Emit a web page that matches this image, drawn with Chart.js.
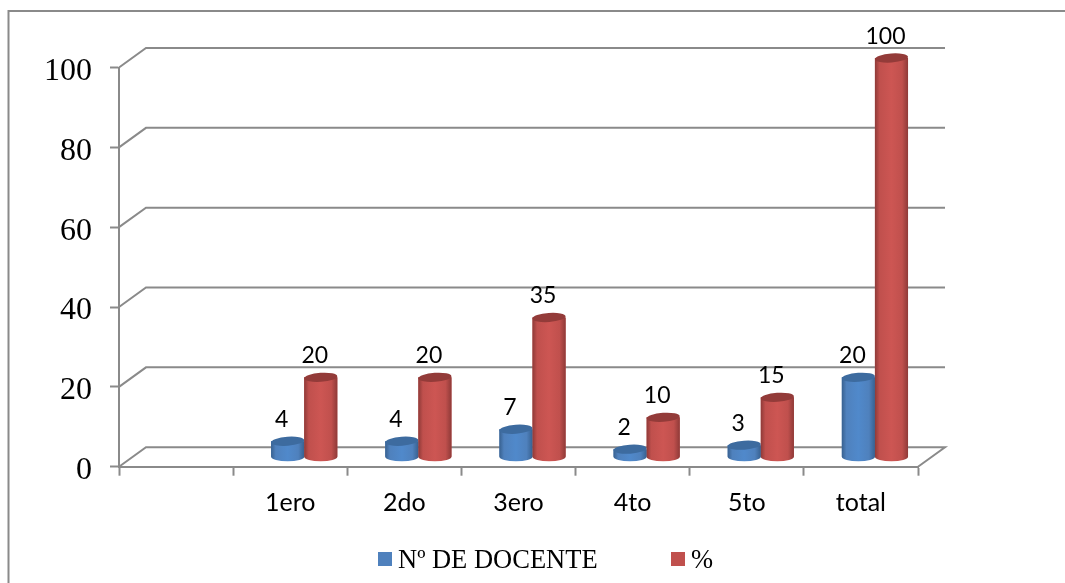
<!DOCTYPE html>
<html>
<head>
<meta charset="utf-8">
<style>html,body{margin:0;padding:0;background:#fff;overflow:hidden}canvas{display:block}</style>
<script src="https://cdn.jsdelivr.net/npm/chart.js@4"></script>
</head>
<body>
<canvas id="c" width="1065" height="583"></canvas>
<script>
const categories = ['', '1ero', '2do', '3ero', '4to', '5to', 'total'];
const docentes = [null, 4, 4, 7, 2, 3, 20];
const porcentaje = [null, 20, 20, 35, 10, 15, 100];
const yTicks = [0, 20, 40, 60, 80, 100];
const seriesNames = ['Nº DE DOCENTE', '%'];

const GRAY = '#8a8a8a';
const DEPTH_X = 27, DEPTH_Y = 19.5;
const BAR_DX = 14, BAR_DY = -9.5;
const SERIF = '"Liberation Serif"';
const SANS = 'Lato';
const CAP_RY = 4.5;
const shade = [
  {base:'#4F81BD', edge:'#386190', mid:'#5089cb', top:'#3d6b9f'},
  {base:'#C0504D', edge:'#8f3a38', mid:'#cd5653', top:'#933b39'}
];

const scene = {
  id: 'scene',
  beforeDraw(chart) {
    const {ctx, chartArea: a, scales: {y}} = chart;
    ctx.save();
    ctx.strokeStyle = GRAY;
    ctx.lineWidth = 2;
    // outer frame: top and left only
    ctx.beginPath();
    ctx.moveTo(8.5, chart.height); ctx.lineTo(8.5, 11); ctx.lineTo(chart.width, 11);
    ctx.stroke();
    // walls
    yTicks.forEach(v => {
      const py = y.getPixelForValue(v);
      ctx.beginPath();
      ctx.moveTo(a.left, py);
      ctx.lineTo(a.left + DEPTH_X, py - DEPTH_Y);
      ctx.lineTo(a.right + DEPTH_X, py - DEPTH_Y);
      if (v === 0) ctx.lineTo(a.right, py);
      ctx.stroke();
    });
    ctx.restore();
  },
  beforeDatasetDraw(chart) {
    chart.ctx.save();
    chart.ctx.translate(BAR_DX, BAR_DY);
  },
  afterDatasetDraw(chart) {
    chart.ctx.restore();
  },
  afterDatasetsDraw(chart) {
    const ctx = chart.ctx;
    // round shading: first series first, so the second one overlaps it
    ctx.save();
    ctx.translate(BAR_DX, BAR_DY);
    chart.data.datasets.forEach((ds, i) => {
      const s = shade[i];
      chart.getDatasetMeta(i).data.forEach((el, j) => {
        if (ds.data[j] == null) return;
        const hw = el.width / 2, l = el.x - hw, r = el.x + hw;
        const g = ctx.createLinearGradient(l, 0, r, 0);
        g.addColorStop(0, s.edge);
        g.addColorStop(0.14, s.base);
        g.addColorStop(0.5, s.mid);
        g.addColorStop(0.82, s.base);
        g.addColorStop(1, s.edge);
        ctx.fillStyle = g;
        ctx.beginPath();
        ctx.moveTo(l, el.y);
        ctx.lineTo(l, el.base);
        ctx.ellipse(el.x, el.base, hw, CAP_RY, 0, Math.PI, 0, true);
        ctx.lineTo(r, el.y);
        ctx.closePath();
        ctx.fill();
        ctx.fillStyle = s.top;
        ctx.beginPath();
        ctx.ellipse(el.x, el.y, hw, CAP_RY, -0.07, 0, Math.PI * 2);
        ctx.fill();
      });
    });
    ctx.restore();

    ctx.save();
    ctx.font = '23px ' + SANS;
    ctx.fillStyle = '#000';
    ctx.textAlign = 'center';
    ctx.textBaseline = 'alphabetic';
    chart.data.datasets.forEach((ds, i) => {
      chart.getDatasetMeta(i).data.forEach((el, j) => {
        if (ds.data[j] == null) return;
        ctx.fillText(String(ds.data[j]), el.x + BAR_DX - 6, el.y + BAR_DY - 14.5);
      });
    });
    // legend
    ctx.font = '26.5px ' + SERIF;
    ctx.textAlign = 'left';
    const xs = [378, 671];
    chart.data.datasets.forEach((ds, i) => {
      ctx.fillStyle = ds.backgroundColor;
      ctx.fillRect(xs[i], 552, 14, 14);
      ctx.fillStyle = '#000';
      ctx.fillText(ds.label, xs[i] + 20, 568);
    });
    ctx.restore();
  }
};

new Chart(document.getElementById('c'), {
  type: 'bar',
  data: {
    labels: categories,
    datasets: [
      {label: seriesNames[0], data: docentes, backgroundColor: shade[0].base,
       categoryPercentage: 0.58, barPercentage: 1},
      {label: seriesNames[1], data: porcentaje, backgroundColor: shade[1].base,
       categoryPercentage: 0.58, barPercentage: 1}
    ]
  },
  options: {
    responsive: false,
    animation: false,
    devicePixelRatio: 1,
    layout: {padding: {top: 67.5, right: 147, left: 0, bottom: 0}},
    plugins: {legend: {display: false}, tooltip: {enabled: false}},
    scales: {
      x: {
        afterFit(s) { s.height = 116.3; },
        border: {color: GRAY, width: 2},
        grid: {drawOnChartArea: false, drawTicks: true, tickLength: 9, tickColor: GRAY, tickWidth: 2, offset: true},
        ticks: {color: '#000', font: {family: SANS, size: 25}, padding: 12, maxRotation: 0, autoSkip: false}
      },
      y: {
        min: 0, max: 100,
        afterFit(s) { s.width = 119; },
        afterBuildTicks(s) { s.ticks = yTicks.map(v => ({value: v})); },
        border: {color: GRAY, width: 2},
        grid: {drawOnChartArea: false, drawTicks: true, tickLength: 9, tickColor: GRAY, tickWidth: 2},
        ticks: {color: '#000', font: {family: SERIF, size: 32}, padding: 18, labelOffset: 4}
      }
    }
  },
  plugins: [scene]
});
</script>
</body>
</html>
